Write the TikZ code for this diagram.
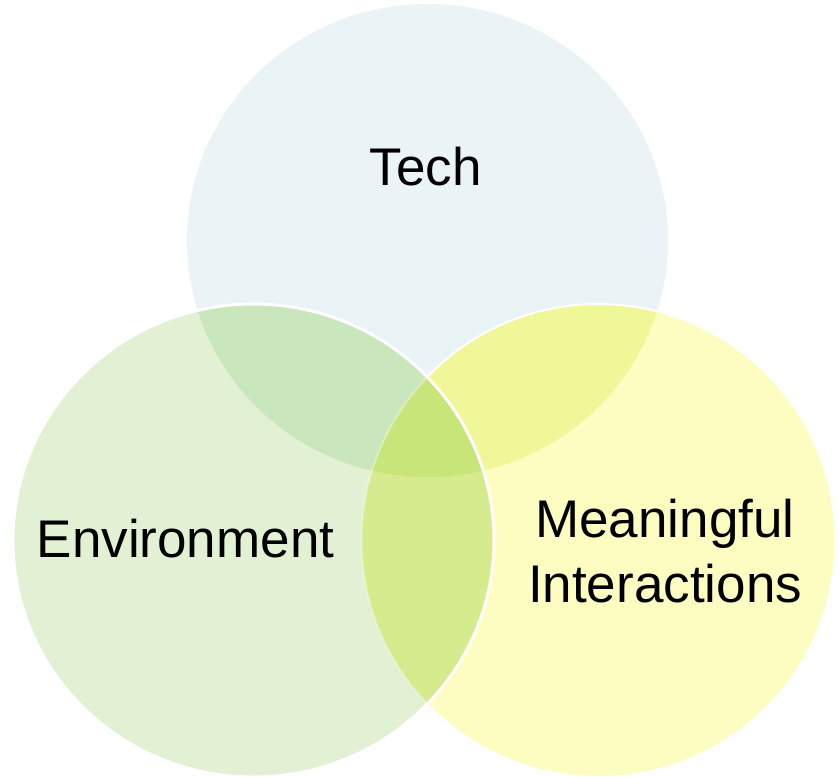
\documentclass[tikz,border=0pt]{standalone}
\usepackage{fontspec}
\setmainfont{Liberation Sans}
\definecolor{cT}{HTML}{EAF4F6}
\definecolor{cE}{HTML}{E2F0D4}
\definecolor{cM}{HTML}{FDFDC1}
\definecolor{cTE}{HTML}{C9E6BC}
\definecolor{cTM}{HTML}{F0F798}
\definecolor{cEM}{HTML}{D5EB8D}
\definecolor{cTEM}{HTML}{C8E57A}
\tikzset{
  lbl/.style={anchor=base, font=\fontsize{53}{63}\selectfont, text=black, inner sep=0pt, align=center},
  rim/.style={draw=white, line width=3pt}
}
\newcommand{\techpath}{(427.5,240.5) ellipse [x radius=240.5pt, y radius=236.5pt]}
\newcommand{\envpath}{(253.5,540.5) ellipse [x radius=240.5pt, y radius=236.5pt]}
\newcommand{\meanpath}{(598.5,540.5) ellipse [x radius=237pt, y radius=236.5pt]}
\begin{document}
\begin{tikzpicture}[x=1pt,y=-1pt]
\useasboundingbox (0,0) rectangle (839,777);
\fill[white] (0,0) rectangle (839,777);
% Tech
\fill[cT] \techpath;
% Meaningful
\fill[cM] \meanpath;
\begin{scope}
  \clip \techpath;
  \fill[cTM] \meanpath;
\end{scope}
\draw[rim, line width=2pt] \meanpath;
% Environment
\fill[cE] \envpath;
\begin{scope}
  \clip \envpath;
  \fill[cTE] \techpath;
  \fill[cEM] \meanpath;
  \clip \techpath;
  \fill[cTEM] \meanpath;
\end{scope}
\begin{scope}
  \clip \envpath;
  \draw[draw=white, opacity=0.35, line width=2pt] \meanpath;
\end{scope}
\draw[rim] \envpath;
% Labels
\node[lbl] (tech) at (425.5,185) {Tech};
\node[lbl] (env) at (185.5,557) {Environment};
\node[lbl] (mean1) at (665,537) {Meaningful};
\node[lbl] (mean2) at (665,602) {Interactions};
\end{tikzpicture}
\end{document}
